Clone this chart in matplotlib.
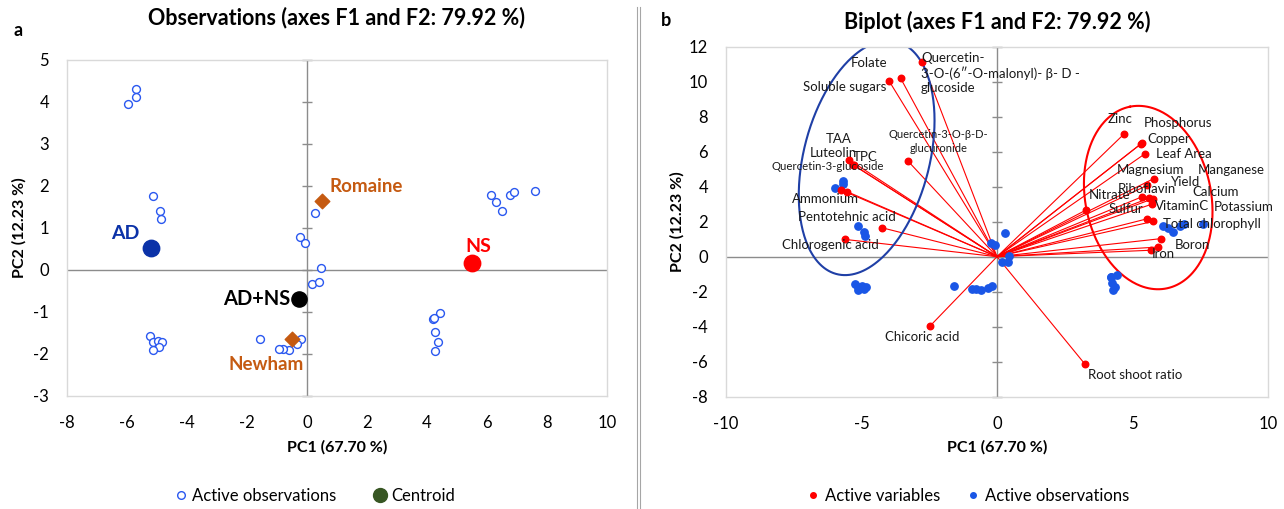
import numpy as np
import matplotlib.pyplot as plt
from matplotlib.lines import Line2D

plt.rcParams['font.family'] = ['Lato', 'DejaVu Sans']
plt.rcParams['axes.unicode_minus'] = False

# observations (same scores in both panels)
obs_pc1 = [-5.98, -5.70, -5.69, -5.12, -4.90, -4.88,
           -5.24, -5.12, -4.98, -4.84, -4.92, -5.14,
           0.28, -0.23, -0.08, 0.46, 0.18, 0.40,
           -0.19, -0.32, -0.60, -0.79, -0.93, -1.58,
           6.12, 6.31, 6.51, 6.76, 6.91, 7.60,
           4.43, 4.20, 4.22, 4.26, 4.37, 4.27]
obs_pc2 = [3.95, 4.30, 4.13, 1.77, 1.41, 1.21,
           -1.56, -1.72, -1.69, -1.72, -1.83, -1.91,
           1.36, 0.79, 0.65, 0.04, -0.33, -0.28,
           -1.65, -1.76, -1.90, -1.87, -1.87, -1.65,
           1.78, 1.63, 1.40, 1.78, 1.86, 1.89,
           -1.02, -1.17, -1.15, -1.48, -1.71, -1.92]

# centroids
cent_names = ["AD", "NS", "AD+NS", "Romaine", "Newham"]
cent_pc1 = [-5.21, 5.50, -0.28, 0.49, -0.50]
cent_pc2 = [0.52, 0.16, -0.70, 1.64, -1.64]

# active variables (biplot)
var_names = ["Quercetin-3-O-(6\u2033-O-malonyl)- \u03b2- D -glucoside", "Folate", "Soluble sugars",
             "Quercetin-3-O-\u03b2-D-glucuronide", "TAA", "Luteolin", "TPC",
             "Quercetin-3-glucoside", "Ammonium", "Pentotehnic acid", "Chlorogenic acid",
             "Chicoric acid", "Root shoot ratio",
             "Zinc", "Copper", "Phosphorus", "Leaf Area", "Magnesium", "Yield",
             "Riboflavin", "Calcium", "Potassium", "VitaminC", "Nitrate", "Sulfur",
             "Total chlorophyll", "Manganese", "Boron", "Iron"]
var_pc1 = [-2.75, -3.56, -3.99, -3.30, -5.45, -5.28, -5.30, -5.52, -5.75, -4.26, -5.62,
           -2.47, 3.23,
           4.70, 5.32, 5.34, 5.45, 5.78, 5.55, 5.36, 5.62, 5.75, 5.73, 3.29, 5.55,
           5.77, 6.04, 5.93, 5.69]
var_pc2 = [11.10, 10.21, 10.06, 5.49, 5.53, 5.22, 5.25, 3.71, 3.81, 1.66, 0.99,
           -3.96, -6.11,
           7.03, 6.46, 6.48, 5.87, 4.46, 4.08, 3.43, 3.35, 3.31, 3.01, 2.67, 2.17,
           2.02, 1.03, 0.55, 0.37]

# label placement for the biplot: (text, x, y, ha, size)
var_labels = [
    ("Quercetin-\n3-O-(6\u2033-O-malonyl)- \u03b2- D -\nglucoside", -2.80, 10.50, "left", 9.5),
    ("Folate", -4.72, 11.09, "center", 9.5),
    ("Soluble sugars", -4.10, 9.71, "right", 9.5),
    ("Quercetin-3-O-\u03b2-D-\nglucuronide", -2.15, 6.59, "center", 8),
    ("TAA", -5.86, 6.74, "center", 9.5),
    ("Luteolin", -6.02, 5.94, "center", 9.5),
    ("TPC", -4.86, 5.71, "center", 9.5),
    ("Quercetin-3-glucoside", -6.23, 5.13, "center", 8.2),
    ("Ammonium", -6.32, 3.28, "center", 9.5),
    ("Pentotehnic acid", -5.53, 2.29, "center", 9.5),
    ("Chlorogenic acid", -6.14, 0.67, "center", 9.5),
    ("Chicoric acid", -2.76, -4.57, "center", 9.5),
    ("Root shoot ratio", 5.09, -6.74, "center", 9.5),
    ("Zinc", 4.55, 7.87, "center", 9.5),
    ("Phosphorus", 6.68, 7.66, "center", 9.5),
    ("Copper", 6.34, 6.73, "center", 9.5),
    ("Leaf Area", 6.89, 5.89, "center", 9.5),
    ("Magnesium", 5.65, 4.95, "center", 9.5),
    ("Manganese", 8.66, 4.95, "center", 9.5),
    ("Yield", 6.97, 4.27, "center", 9.5),
    ("Riboflavin", 5.54, 3.85, "center", 9.5),
    ("Calcium", 8.07, 3.71, "center", 9.5),
    ("Nitrate", 4.14, 3.51, "center", 9.5),
    ("VitaminC", 6.83, 2.90, "center", 9.5),
    ("Potassium", 9.11, 2.86, "center", 9.5),
    ("Sulfur", 4.74, 2.74, "center", 9.5),
    ("Total chlorophyll", 7.94, 1.87, "center", 9.5),
    ("Boron", 7.22, 0.69, "center", 9.5),
    ("Iron", 6.13, 0.14, "center", 9.5),
]

FRAME = "#d9d9d9"
AXIS = "#8c8c8c"
OBS_BLUE = "#2a58f0"
DOT_BLUE = "#1a56e6"
RED = "#ff0000"
ORANGE = "#c55a11"
NAVY = "#0b32a8"

W, H = 1284, 509
fig = plt.figure(figsize=(W / 100, H / 100), dpi=100)


def style_axes(ax, xlim, ylim, xticks, yticks):
    ax.set_xlim(*xlim)
    ax.set_ylim(*ylim)
    ax.set_xticks(xticks)
    ax.set_yticks(yticks)
    ax.tick_params(length=0, labelsize=12, colors="black")
    ax.tick_params(axis="x", pad=14)
    ax.tick_params(axis="y", pad=13)
    for s in ax.spines.values():
        s.set_color(FRAME)
        s.set_linewidth(1.0)
    ax.axhline(0, color=AXIS, lw=1.0, zorder=1)
    ax.axvline(0, color=AXIS, lw=1.0, zorder=1)
    # tick marks along the zero axis
    ax.plot(np.zeros(len(yticks)), yticks, ls="none", marker="_", ms=7,
            mew=1.0, color=AXIS, zorder=1, clip_on=False)


# ---- panel a ----
ax1 = fig.add_axes([67 / W, 1 - 396 / H, 540 / W, 336 / H])
style_axes(ax1, (-8, 10), (-3, 5), range(-8, 11, 2), range(-3, 6))
ax1.scatter(obs_pc1, obs_pc2, s=32, facecolors="white", edgecolors=OBS_BLUE,
            linewidths=1.0, zorder=3)
cent_style = {
    "AD": dict(marker="o", s=140, c=NAVY),
    "NS": dict(marker="o", s=140, c=RED),
    "AD+NS": dict(marker="o", s=120, c="black"),
    "Romaine": dict(marker="D", s=55, c=ORANGE),
    "Newham": dict(marker="D", s=55, c=ORANGE),
}
for n, x, y in zip(cent_names, cent_pc1, cent_pc2):
    ax1.scatter([x], [y], zorder=4, **cent_style[n])
ax1.text(-6.07, 0.88, "AD", color=NAVY, fontsize=14, fontweight="bold", ha="center", va="center")
ax1.text(0.76, 2.00, "Romaine", color=ORANGE, fontsize=13.5, fontweight="bold", ha="left", va="center")
ax1.text(5.72, 0.57, "NS", color=RED, fontsize=14, fontweight="bold", ha="center", va="center")
ax1.text(-0.55, -0.69, "AD+NS", color="black", fontsize=14.5, fontweight="bold", ha="right", va="center")
ax1.text(-1.37, -2.24, "Newham", color=ORANGE, fontsize=13.5, fontweight="bold", ha="center", va="center")
ax1.set_xlabel("PC1 (67.70 %)", fontsize=11.5, fontweight="bold", labelpad=6)
ax1.set_ylabel("PC2 (12.23 %)", fontsize=11.5, fontweight="bold", labelpad=5)
ax1.set_title("Observations (axes F1 and F2: 79.92 %)", fontsize=15.5, fontweight="bold", pad=26)
h1 = [Line2D([], [], ls="none", marker="o", mfc="white", mec=OBS_BLUE, ms=5.5, mew=1.0),
      Line2D([], [], ls="none", marker="o", color="#375623", ms=10)]
fig.legend(h1, ["Active observations", "Centroid"], loc="center", bbox_to_anchor=(313 / W, 1 - 496 / H),
           ncol=2, frameon=False, fontsize=12, handletextpad=0.1, columnspacing=2.0, handlelength=1.2)

# ---- panel b ----
ax2 = fig.add_axes([726 / W, 1 - 396.7 / H, 542 / W, 350 / H])
style_axes(ax2, (-10, 10), (-8, 12), range(-10, 11, 5), range(-8, 13, 2))
for x, y in zip(var_pc1, var_pc2):
    ax2.plot([0, x], [0, y], color=RED, lw=0.8, zorder=2)
ax2.scatter(var_pc1, var_pc2, s=22, c=RED, zorder=4)
ax2.scatter(obs_pc1, obs_pc2, s=28, c=DOT_BLUE, zorder=3)
for txt, x, y, ha, fs in var_labels:
    ax2.text(x, y, txt, ha=ha, va="center", fontsize=fs, color="#1a1a1a", zorder=5,
             linespacing=1.25)

# ellipses: semi-axes given in x-data units, y converted through the axis aspect
ratio = (350 / 20) / (542 / 20)
t = np.linspace(0, 2 * np.pi, 300)
for cx, cy, a, b, ang, col in [(-4.81, 5.65, 4.43, 2.32, 75.5, "#1f3fa6"),
                               (5.58, 3.38, 3.42, 2.32, 101.4, RED)]:
    th = np.radians(ang)
    u = a * np.cos(t) * np.cos(th) - b * np.sin(t) * np.sin(th)
    v = a * np.cos(t) * np.sin(th) + b * np.sin(t) * np.cos(th)
    ax2.plot(cx + u, cy + v / ratio, color=col, lw=1.5, zorder=2)

ax2.set_xlabel("PC1 (67.70 %)", fontsize=11.5, fontweight="bold", labelpad=6)
ax2.set_ylabel("PC2 (12.23 %)", fontsize=11.5, fontweight="bold", labelpad=3)
ax2.set_title("Biplot (axes F1 and F2: 79.92 %)", fontsize=15.5, fontweight="bold", pad=13)
h2 = [Line2D([], [], ls="none", marker="o", color=RED, ms=4),
      Line2D([], [], ls="none", marker="o", color=DOT_BLUE, ms=4)]
fig.legend(h2, ["Active variables", "Active observations"], loc="center", bbox_to_anchor=(967 / W, 1 - 496 / H),
           ncol=2, frameon=False, fontsize=12, handletextpad=0.2, columnspacing=1.5, handlelength=1.0)

# panel letters and divider
fig.text(13 / W, 1 - 30 / H, "a", fontsize=13, fontweight="bold", va="center")
fig.text(661 / W, 1 - 21 / H, "b", fontsize=13, fontweight="bold", va="center")
fig.add_artist(Line2D([636.5 / W, 636.5 / W], [0, 1 - 7 / H], color="#a6a6a6", lw=0.8))
fig.add_artist(Line2D([640 / W, 640 / W], [0, 1 - 7 / H], color="#a6a6a6", lw=0.8))

fig.savefig("out.png", dpi=100)
